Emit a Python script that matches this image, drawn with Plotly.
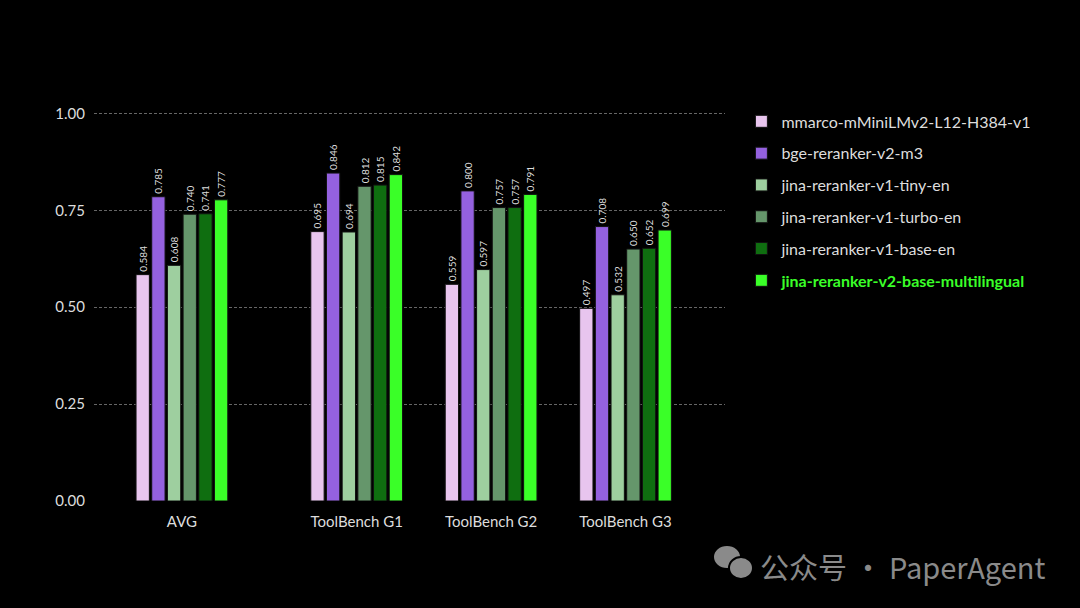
import plotly.graph_objects as go

# benchmark groups and model scores
categories = ['AVG', 'ToolBench G1', 'ToolBench G2', 'ToolBench G3']
models = [
    'mmarco-mMiniLMv2-L12-H384-v1',
    'bge-reranker-v2-m3',
    'jina-reranker-v1-tiny-en',
    'jina-reranker-v1-turbo-en',
    'jina-reranker-v1-base-en',
    'jina-reranker-v2-base-multilingual',
]
mmarco_scores = [0.584, 0.695, 0.559, 0.497]
bge_scores = [0.785, 0.846, 0.800, 0.708]
tiny_scores = [0.608, 0.694, 0.597, 0.532]
turbo_scores = [0.740, 0.812, 0.757, 0.650]
base_scores = [0.741, 0.815, 0.757, 0.652]
v2_scores = [0.777, 0.842, 0.791, 0.699]
y_ticks = [0.0, 0.25, 0.5, 0.75, 1.0]

# layout stuff
colors = ['#e8c5ee', '#9461df', '#9ecf9f', '#65966b', '#0f6e10', '#3aff28']
group_x = [0, 1.3, 2.3, 3.3]
font_name = 'Lato'
W, H = 1080, 608
L, R, T, B = 94, 355, 94, 107


def px_to_paper(px, py):
    # convert pixel position on the page to paper coords (for the watermark)
    return (px - L) / (W - L - R), (H - B - py) / (H - T - B)


all_scores = [mmarco_scores, bge_scores, tiny_scores, turbo_scores, base_scores, v2_scores]

fig = go.Figure()
for i, (name, scores) in enumerate(zip(models, all_scores)):
    label = name
    if i == len(models) - 1:
        # highlight the new model in the legend
        label = '<span style="color:%s"><b>%s</b></span>' % (colors[i], name)
    fig.add_trace(go.Bar(
        x=group_x,
        y=scores,
        name=label,
        legendgroup=name,
        marker=dict(color=colors[i], line=dict(color='#111111', width=1)),
        text=['%.3f' % s for s in scores],
        textposition='outside',
        textangle=-90,
        constraintext='none',
        textfont=dict(family=font_name, size=10, color='#dddddd'),
        cliponaxis=False,
    ))

fig.update_layout(
    width=W,
    height=H,
    paper_bgcolor='black',
    plot_bgcolor='black',
    font=dict(family=font_name, color='#dddddd', size=14),
    barmode='group',
    bargap=0.30,
    bargroupgap=0.15,
    margin=dict(l=L, r=R, t=T, b=B),
    showlegend=True,
    legend=dict(
        x=1.026, y=1.0 - 0.05 / 1.05 + 0.022, xanchor='left', yanchor='top',
        font=dict(family=font_name, size=16, color='#dddddd'),
        tracegroupgap=8,
        bgcolor='rgba(0,0,0,0)',
    ),
    xaxis=dict(
        tickmode='array',
        tickvals=group_x,
        ticktext=categories,
        range=[-0.654, 4.04],
        showgrid=False,
        zeroline=False,
        showline=False,
        ticks='',
        ticklabelstandoff=10,
        tickfont=dict(size=15, color='#dddddd'),
    ),
    yaxis=dict(
        range=[0, 1.05],
        tickmode='array',
        tickvals=y_ticks,
        tickformat='.2f',
        showgrid=True,
        gridcolor='#666666',
        griddash='3px,2px',
        gridwidth=1,
        zeroline=False,
        showline=False,
        ticks='',
        ticklabelstandoff=8,
        tickfont=dict(size=15, color='#dddddd'),
    ),
)

# watermark in the bottom right corner (chat icon + text)
for cx, cy, rx, ry in [(727, 557, 14, 12), (741, 568, 12, 11)]:
    x0, y0 = px_to_paper(cx - rx, cy + ry)
    x1, y1 = px_to_paper(cx + rx, cy - ry)
    fig.add_shape(type='circle', xref='paper', yref='paper', x0=x0, y0=y0, x1=x1, y1=y1,
                  fillcolor='#8a8a8a', line=dict(color='black', width=2))
wx, wy = px_to_paper(758, 566)
fig.add_annotation(
    text='公众号 · PaperAgent',
    xref='paper', yref='paper',
    x=wx, y=wy,
    xanchor='left', yanchor='middle',
    showarrow=False,
    font=dict(family='Noto Sans CJK SC', size=29, color='#8a8a8a'),
)

fig.write_html('out.html', config={'displayModeBar': False},
               post_script="document.body.style.margin='0';document.body.style.background='black';")
